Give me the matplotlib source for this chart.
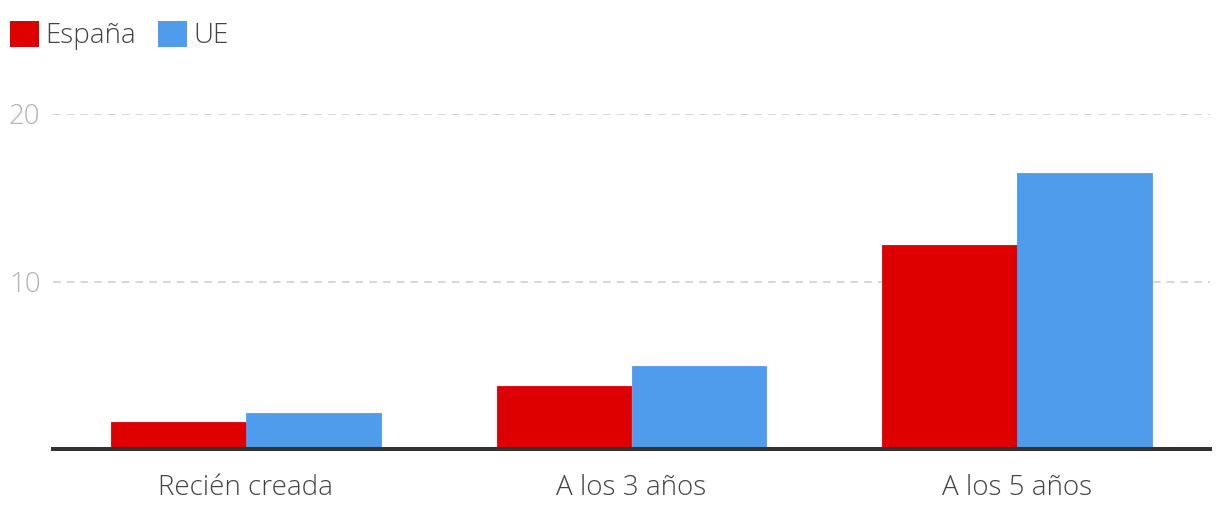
import matplotlib
matplotlib.use("Agg")
import matplotlib.pyplot as plt
import numpy as np
from matplotlib.patches import Patch

categories = ["Recién creada", "A los 3 años", "A los 5 años"]
espana = [1.6, 3.75, 12.2]
ue = [2.15, 4.95, 16.45]
series_names = ["España", "UE"]
yticks = [10, 20]

RED = "#DE0000"
BLUE = "#4F9BEC"

plt.rcParams['font.family'] = ['Open Sans', 'DejaVu Sans']

fig = plt.figure(figsize=(12.2, 5.24), dpi=100)
ax = fig.add_axes([53/1220, 1 - 449/524, 1157/1220, 335/524])

x = np.arange(len(categories))
w = 0.35
ax.bar(x - w/2, espana, w, color=RED, edgecolor=RED, linewidth=0.6, zorder=3)
ax.bar(x + w/2, ue, w, color=BLUE, edgecolor=BLUE, linewidth=0.6, zorder=3)

ax.set_xlim(-0.5, 2.5)
ax.set_ylim(0, 20)
ax.set_yticks(yticks)
ax.set_yticklabels([str(v) for v in yticks], color="#b3b3b3", fontsize=20, fontweight="light")
ax.set_xticks(x)
ax.set_xticklabels(categories, color="#444444", fontsize=20, fontweight="light")
ax.tick_params(axis="both", length=0)
ax.tick_params(axis="x", pad=18)
ax.tick_params(axis="y", pad=9)

for s in ["top", "right", "left"]:
    ax.spines[s].set_visible(False)
ax.spines["bottom"].set_color("#333333")
ax.spines["bottom"].set_linewidth(2.9)
ax.spines["bottom"].set_zorder(4)

ax.yaxis.grid(True, color="#cccccc", linestyle=(0, (5, 4)), linewidth=1.1, zorder=0)
ax.set_axisbelow(True)

handles = [Patch(color=RED, linewidth=0), Patch(color=BLUE, linewidth=0)]
fig.legend(handles, series_names, loc="upper left", bbox_to_anchor=(10/1220, 1 - 21/524),
           frameon=False, handlelength=1.05, handleheight=1.05,
           handletextpad=0.22, columnspacing=0.8, ncol=2, borderpad=0,
           prop={'weight': 'light', 'size': 20}, labelcolor="#444444",
           borderaxespad=0)

fig.savefig("out.png", dpi=100)
